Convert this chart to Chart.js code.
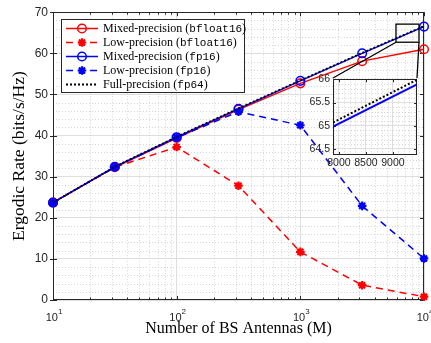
<!DOCTYPE html>
<html lang="en">
<head>
<meta charset="UTF-8" />
<title>Ergodic Rate vs Number of BS Antennas</title>
<script src="https://cdn.jsdelivr.net/npm/chart.js"></script>
<style>
  body { margin: 0; background: #fff; }
  #wrap { position: relative; width: 431px; height: 343px; }
  #wrap canvas { position: absolute; }
</style>
</head>
<body>
<div id="wrap">
  <canvas id="main" width="431" height="343" style="left:0;top:0"></canvas>
  <canvas id="inset" width="125" height="100"></canvas>
</div>
<script>
// ---- data ----
const antennas  = [10, 31.6, 100, 316, 1000, 3162, 10000];
const mixedBf16 = [23.7, 32.3, 39.4, 46.3, 52.7, 58.1, 61.0];
const lowBf16   = [23.7, 32.3, 37.2, 27.8, 11.7, 3.6, 0.8];
const mixedFp16 = [23.7, 32.4, 39.6, 46.5, 53.3, 60.0, 66.5];
const lowFp16   = [23.7, 32.3, 39.5, 45.8, 42.5, 22.9, 10.1];
const fullFp64  = [23.7, 32.4, 39.7, 46.6, 53.4, 60.1, 66.6];

const xTicks = [10, 100, 1000, 10000];
const yTicks = [0, 10, 20, 30, 40, 50, 60, 70];

// zoomed inset
const insetX    = [7890, 9445];
const insetFp16 = [64.98, 65.89];
const insetFp64 = [65.07, 65.99];
const insetXTicks = [8000, 8500, 9000];
const insetYTicks = [64.5, 65, 65.5, 66];
// region marked on the main axes (data units)
const zoomRegionX = [5935, 9110];
const zoomRegionY = [62.7, 67.1];

// ---- styling ----
const RED = '#ff0000', BLUE = '#0000ff', BLACK = '#000000';
const AXIS = '#262626', MAJOR_GRID = '#dedede', MINOR_GRID = '#d6d6d6';
const SANS = "'Liberation Sans', Arial, sans-serif";
const SERIF = "'Liberation Serif', 'Times New Roman', serif";
const MONO = "'Liberation Mono', 'DejaVu Sans Mono', monospace";
const insetBox = { left: 333, top: 78, right: 417, bottom: 155 };

const pts = (xs, ys) => xs.map((x, i) => ({ x, y: ys[i] }));

function series(label, ys, color, dashed, marker, order) {
  return {
    label, data: pts(antennas, ys), order,
    borderColor: color, borderWidth: 1.5, borderDash: dashed ? [7, 5] : [],
    pointStyle: marker, pointRadius: marker ? 4.3 : 0,
    pointBorderColor: color, pointBorderWidth: marker === 'star' ? 2.2 : 1.5,
    pointBackgroundColor: marker === 'star' ? color : 'rgba(0,0,0,0)',
    tension: 0, clip: false
  };
}

function crisp(v) { return Math.round(v) + 0.5; }

function drawMarker(ctx, style, x, y, r, color) {
  ctx.save();
  ctx.strokeStyle = color; ctx.setLineDash([]);
  ctx.beginPath();
  if (style === 'circle') {
    ctx.lineWidth = 1.5;
    ctx.arc(x, y, r, 0, Math.PI * 2);
  } else if (style === 'star') {
    ctx.lineWidth = 2.2;
    for (let k = 0; k < 4; k++) {
      const a = k * Math.PI / 4;
      ctx.moveTo(x - r * Math.cos(a), y - r * Math.sin(a));
      ctx.lineTo(x + r * Math.cos(a), y + r * Math.sin(a));
    }
  }
  ctx.stroke();
  ctx.restore();
}

function vline(ctx, x, y0, y1) { ctx.beginPath(); ctx.moveTo(x, y0); ctx.lineTo(x, y1); ctx.stroke(); }
function hline(ctx, y, x0, x1) { ctx.beginPath(); ctx.moveTo(x0, y); ctx.lineTo(x1, y); ctx.stroke(); }

// minor grid, axes box, inward ticks, x tick labels with exponents, legend, zoom marks
const mainDecor = {
  id: 'mainDecor',
  beforeDatasetsDraw(chart) {
    const { ctx, chartArea: a, scales: { x, y } } = chart;
    ctx.save();
    ctx.lineWidth = 1; ctx.strokeStyle = MINOR_GRID; ctx.setLineDash([1, 2]);
    for (let d = 10; d < 10000; d *= 10)
      for (let k = 2; k <= 9; k++) vline(ctx, crisp(x.getPixelForValue(k * d)), a.top, a.bottom);
    for (let v = 2; v < 70; v += 2)
      if (v % 10) hline(ctx, crisp(y.getPixelForValue(v)), a.left, a.right);
    ctx.setLineDash([]);
    ctx.strokeStyle = AXIS;
    ctx.strokeRect(crisp(a.left), crisp(a.top), Math.round(a.width) - 1, Math.round(a.height) - 1);
    // inward ticks
    for (let d = 10; d <= 10000; d *= 10) {
      const px = crisp(x.getPixelForValue(d));
      vline(ctx, px, a.bottom, a.bottom - 4); vline(ctx, px, a.top, a.top + 4);
      if (d < 10000) for (let k = 2; k <= 9; k++) {
        const mx = crisp(x.getPixelForValue(k * d));
        vline(ctx, mx, a.bottom, a.bottom - 2.5); vline(ctx, mx, a.top, a.top + 2.5);
      }
    }
    yTicks.forEach(v => {
      const py = crisp(y.getPixelForValue(v));
      hline(ctx, py, a.left - 3, a.left + 4); hline(ctx, py, a.right, a.right - 4);
    });
    // x tick labels 10^n
    ctx.fillStyle = AXIS; ctx.textBaseline = 'middle';
    xTicks.forEach(v => {
      const px = x.getPixelForValue(v);
      const exp = String(Math.round(Math.log10(v)));
      ctx.font = '11px ' + SANS; const w1 = ctx.measureText('10').width;
      ctx.font = '8px ' + SANS; const w2 = ctx.measureText(exp).width;
      const x0 = px - (w1 + w2) / 2 + 1;
      ctx.font = '11px ' + SANS; ctx.textAlign = 'left';
      ctx.fillText('10', x0, a.bottom + 18);
      ctx.font = '8px ' + SANS;
      ctx.fillText(exp, x0 + w1, a.bottom + 12);
    });
    ctx.restore();
  },
  afterDatasetsDraw(chart) {
    const { ctx, scales: { x, y } } = chart;
    ctx.save();
    // zoom region and connectors
    const rx0 = x.getPixelForValue(zoomRegionX[0]), rx1 = x.getPixelForValue(zoomRegionX[1]);
    const ry0 = y.getPixelForValue(zoomRegionY[1]), ry1 = y.getPixelForValue(zoomRegionY[0]);
    ctx.strokeStyle = BLACK; ctx.lineWidth = 1.3;
    ctx.strokeRect(rx0, ry0, rx1 - rx0, ry1 - ry0);
    ctx.beginPath();
    ctx.moveTo(rx0, ry1); ctx.lineTo(insetBox.left, insetBox.top);
    ctx.moveTo(rx1, ry1); ctx.lineTo(insetBox.right, insetBox.top);
    ctx.stroke();

    // legend
    const L = { left: 61, top: 19, right: 245, bottom: 93 };
    ctx.fillStyle = '#fff';
    ctx.fillRect(L.left, L.top, L.right - L.left, L.bottom - L.top);
    ctx.strokeStyle = AXIS; ctx.lineWidth = 1;
    ctx.strokeRect(L.left + 0.5, L.top + 0.5, L.right - L.left - 1, L.bottom - L.top - 1);
    chart.data.datasets.forEach((ds, i) => {
      const ry = L.top + 9.5 + i * 14;
      ctx.strokeStyle = ds.borderColor; ctx.lineWidth = ds.borderWidth;
      ctx.setLineDash(ds.borderDash);
      hline(ctx, ry, 66, 98);
      ctx.setLineDash([]);
      if (ds.pointStyle) drawMarker(ctx, ds.pointStyle, 82, ry, 4.3, ds.borderColor);
      const m = ds.label.match(/^(.*\()(.+)(\))$/);
      let tx = 103;
      ctx.fillStyle = BLACK; ctx.textAlign = 'left'; ctx.textBaseline = 'middle';
      [[m[1], SERIF, 12], [m[2], MONO, 11], [m[3], SERIF, 12]].forEach(([t, f, s]) => {
        ctx.font = s + 'px ' + f;
        ctx.fillText(t, tx, ry + 0.5);
        tx += ctx.measureText(t).width;
      });
    });
    ctx.restore();
  }
};

new Chart(document.getElementById('main'), {
  type: 'line',
  data: {
    datasets: [
      series('Mixed-precision (bfloat16)', mixedBf16, RED, false, 'circle', 5),
      series('Low-precision (bfloat16)', lowBf16, RED, true, 'star', 4),
      series('Mixed-precision (fp16)', mixedFp16, BLUE, false, 'circle', 3),
      series('Low-precision (fp16)', lowFp16, BLUE, true, 'star', 2),
      Object.assign(series('Full-precision (fp64)', fullFp64, BLACK, false, false, 1),
                    { borderDash: [2, 2], borderWidth: 1.8 })
    ]
  },
  options: {
    responsive: false, animation: false,
    layout: { padding: { top: 12, right: 7, left: 0, bottom: 0 } },
    plugins: { legend: { display: false }, tooltip: { enabled: false } },
    scales: {
      x: {
        type: 'logarithmic', min: 10, max: 10000,
        afterBuildTicks: s => { s.ticks = xTicks.map(v => ({ value: v })); },
        afterFit: s => { s.height = 43; },
        ticks: { display: false },
        grid: { color: MAJOR_GRID, drawTicks: false },
        border: { display: false },
        title: { display: true, text: 'Number of BS Antennas (M)', color: BLACK,
                 font: { family: SERIF, size: 16 }, padding: { top: 0, bottom: 5 } }
      },
      y: {
        min: 0, max: 70,
        afterBuildTicks: s => { s.ticks = yTicks.map(v => ({ value: v })); },
        afterFit: s => { s.width = 53; },
        ticks: { color: AXIS, font: { family: SANS, size: 12 }, padding: 5 },
        grid: { color: MAJOR_GRID, drawTicks: false },
        border: { display: false },
        title: { display: true, text: 'Ergodic Rate (bits/s/Hz)', color: BLACK,
                 font: { family: SERIF, size: 17.5 }, padding: { top: 9, bottom: 0 } }
      }
    }
  },
  plugins: [mainDecor]
});

// ---- inset ----
const insetCanvas = document.getElementById('inset');
const INSET_LEFT = 33, INSET_TOP = 8;
insetCanvas.style.left = (insetBox.left - INSET_LEFT) + 'px';
insetCanvas.style.top = (insetBox.top - INSET_TOP) + 'px';

const insetDecor = {
  id: 'insetDecor',
  beforeDraw(chart) {
    const { ctx, chartArea: a } = chart;
    ctx.save(); ctx.fillStyle = '#fff';
    ctx.fillRect(a.left, a.top, a.width, a.height); ctx.restore();
  },
  beforeDatasetsDraw(chart) {
    const { ctx, chartArea: a, scales: { x, y } } = chart;
    ctx.save();
    ctx.lineWidth = 1; ctx.strokeStyle = MINOR_GRID; ctx.setLineDash([1, 2]);
    for (let v = 7900; v <= 9400; v += 100)
      if (v % 500) vline(ctx, crisp(x.getPixelForValue(v)), a.top, a.bottom);
    for (let v = 64.4; v < 66; v += 0.1)
      if (Math.abs(v * 2 - Math.round(v * 2)) > 0.01) hline(ctx, crisp(y.getPixelForValue(v)), a.left, a.right);
    ctx.setLineDash([]);
    ctx.strokeStyle = AXIS;
    ctx.strokeRect(crisp(a.left), crisp(a.top), Math.round(a.width) - 1, Math.round(a.height) - 1);
    insetXTicks.forEach(v => {
      const px = crisp(x.getPixelForValue(v));
      vline(ctx, px, a.bottom, a.bottom - 3); vline(ctx, px, a.top, a.top + 3);
    });
    insetYTicks.forEach(v => {
      const py = crisp(y.getPixelForValue(v));
      hline(ctx, py, a.left, a.left + 3); hline(ctx, py, a.right, a.right - 3);
    });
    ctx.restore();
  }
};

new Chart(insetCanvas, {
  type: 'line',
  data: {
    datasets: [
      { data: pts(insetX, insetFp16), borderColor: BLUE, borderWidth: 2, pointRadius: 0, order: 2 },
      { data: pts(insetX, insetFp64), borderColor: BLACK, borderWidth: 2, borderDash: [2, 2], pointRadius: 0, order: 1 }
    ]
  },
  options: {
    responsive: false, animation: false,
    layout: { padding: { top: INSET_TOP, right: 8, left: 0, bottom: 0 } },
    plugins: { legend: { display: false }, tooltip: { enabled: false } },
    scales: {
      x: {
        type: 'linear', min: insetX[0], max: insetX[1],
        afterBuildTicks: s => { s.ticks = insetXTicks.map(v => ({ value: v })); },
        afterFit: s => { s.height = 15; },
        ticks: { color: AXIS, font: { family: SANS, size: 10.5 }, padding: 2, maxRotation: 0,
                 callback: v => String(v) },
        grid: { color: MAJOR_GRID, drawTicks: false },
        border: { display: false }
      },
      y: {
        min: 64.37, max: 66,
        afterBuildTicks: s => { s.ticks = insetYTicks.map(v => ({ value: v })); },
        afterFit: s => { s.width = INSET_LEFT; },
        ticks: { color: AXIS, font: { family: SANS, size: 10.5 }, padding: 3,
                 callback: v => String(v) },
        grid: { color: MAJOR_GRID, drawTicks: false },
        border: { display: false }
      }
    }
  },
  plugins: [insetDecor]
});
</script>
</body>
</html>
